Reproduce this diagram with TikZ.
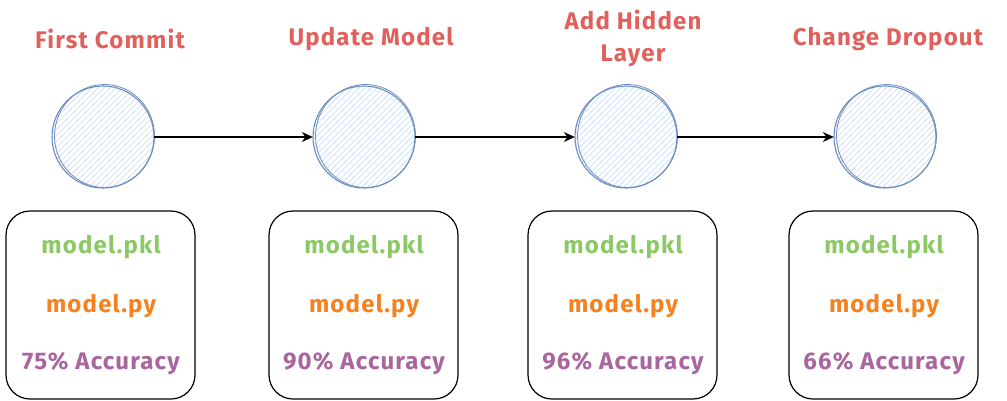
\documentclass[tikz,border=0pt]{standalone}
\usepackage{fontspec}
\setmainfont{Fira Sans}[LetterSpace=5]
\usetikzlibrary{arrows.meta}
\definecolor{titlered}{HTML}{E0605C}
\definecolor{pklgreen}{HTML}{8CC866}
\definecolor{pyorange}{HTML}{F5821F}
\definecolor{accpurple}{HTML}{A8659E}
\definecolor{circblue}{HTML}{6C8EBF}
\definecolor{hatchblue}{HTML}{D2E1F5}
\tikzset{
  title/.style={text=titlered, font=\fontsize{24}{32}\selectfont\bfseries, align=center},
  pkl/.style={text=pklgreen, font=\fontsize{24}{28}\selectfont\bfseries},
  py/.style={text=pyorange, font=\fontsize{24}{28}\selectfont\bfseries},
  acc/.style={text=accpurple, font=\fontsize{24}{28}\selectfont\bfseries},
  commitbox/.style={draw=black, line width=1.2pt, rounded corners=24pt},
  flow/.style={draw=black, line width=1.2pt, -{Stealth[length=11pt,width=10pt]}},
  circ/.style={circle, minimum size=102pt, inner sep=0pt},
}
\newcommand{\commitnode}[3]{%
  \node[circ] (#1) at (#2,#3) {};
  \begin{scope}
    \clip (#2,#3) circle (51);
    \foreach \k in {-114,-108,...,114}
      \draw[hatchblue, line width=0.8pt] (#2+\k-60,#3+60) -- (#2+\k+60,#3-60);
  \end{scope}
  \draw[circblue, line width=1.1pt] (#2,#3) circle (51);
  \draw[circblue, line width=0.8pt] (#2+1.5,#3-1) ellipse (50 and 51.5);
}
\begin{document}
\begin{tikzpicture}[x=1pt,y=-1pt]
\useasboundingbox (0,0) rectangle (1007,400);
% circles
\commitnode{c1}{103}{137}
\commitnode{c2}{364}{137}
\commitnode{c3}{626}{137}
\commitnode{c4}{885}{137}
% titles
\node[title] (t1) at (110,39) {First Commit};
\node[title] (t2) at (371,39) {Update Model};
\node[title] (t3) at (633,38) {Add Hidden\\Layer};
\node[title] (t4) at (888,39) {Change Dropout};
% arrows
\draw[flow] (c1.east) -- (c2.west);
\draw[flow] (c2.east) -- (c3.west);
\draw[flow] (c3.east) -- (c4.west);
% boxes
\foreach \n/\x/\a in {b1/6/75, b2/269/90, b3/528/96, b4/789/66}{
  \draw[commitbox] (\x,211) rectangle (\x+189,399);
  \node[pkl] (\n p) at (\x+95,247) {model.pkl};
  \node[py] (\n y) at (\x+95,306) {model.py};
  \node[acc] (\n a) at (\x+95,364) {\a\% Accuracy};
}
\end{tikzpicture}
\end{document}
